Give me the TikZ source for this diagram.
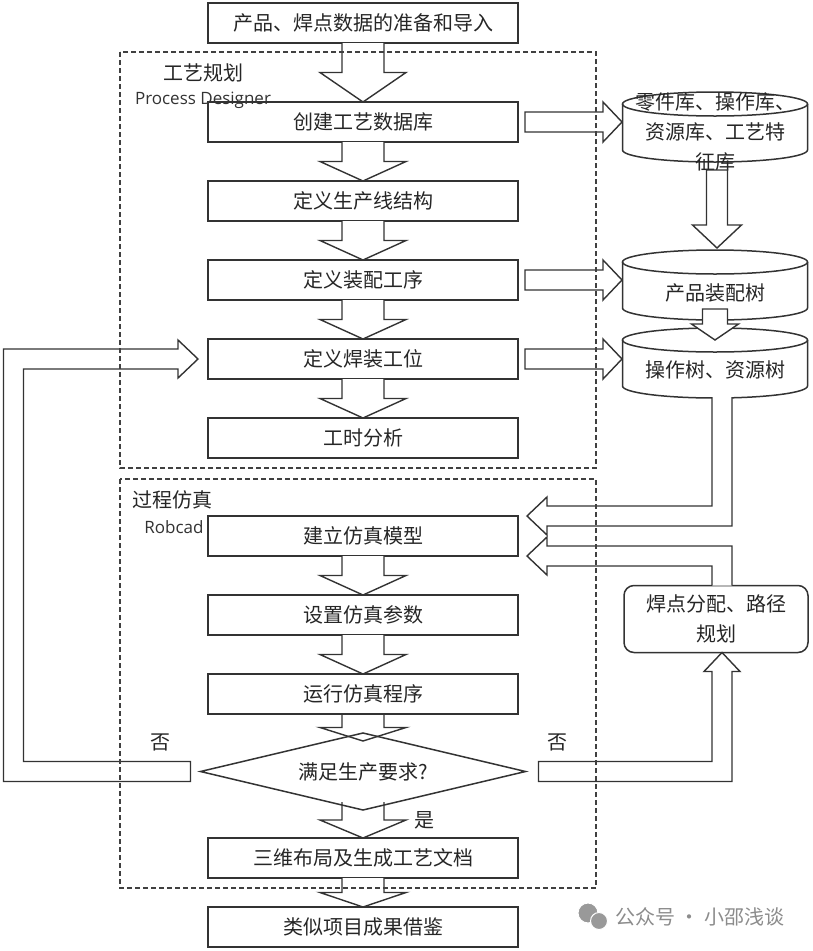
\documentclass[tikz,border=0pt]{standalone}
\usepackage{fontspec}
\setmainfont{Noto Sans CJK SC}
\newfontfamily\latinfont{Open Sans}
\usepackage{tikz}
\usetikzlibrary{arrows.meta,positioning,shapes.geometric,calc}

% hollow block arrows
\newcommand{\blkdown}[3][]{%
  \draw[blk,#1] let \p1=(#2), \p2=(#3), \p3=($(#2)!.5!(#3)$) in
    (\x1-21pt,\y1) -- (\x1-21pt,\y3) -- (\x1-43pt,\y3) -- (\x1,\y2)
    -- (\x1+43pt,\y3) -- (\x1+21pt,\y3) -- (\x1+21pt,\y1);}
\newcommand{\blkright}[2]{%
  \draw[blk] let \p1=(#1), \p2=(#2) in
    (\x1,\y1+10pt) -- (\x2-19pt,\y1+10pt) -- (\x2-19pt,\y1+20pt) -- (\x2,\y1)
    -- (\x2-19pt,\y1-20pt) -- (\x2-19pt,\y1-10pt) -- (\x1,\y1-10pt) -- cycle;}
\newcommand{\cylarrow}[5]{%
  \draw[blk] let \p1=(#1), \p2=(#2) in
    (\x1-#3,\y1) -- (\x1-#3,\y2+#5) -- (\x1-#4,\y2+#5) -- (\x1,\y2)
    -- (\x1+#4,\y2+#5) -- (\x1+#3,\y2+#5) -- (\x1+#3,\y1) -- cycle;}
% database outline round a named node
\newcommand{\drawcyl}[1]{%
  \draw[cylline] ($(#1.north)+(0,12)$) ellipse [x radius=92.5pt, y radius=12pt];
  \draw[cylline] ($(#1.north west)+(0,12)$) -- ($(#1.south west)+(0,-12)$)
    arc [start angle=180, end angle=360, x radius=92.5pt, y radius=12pt]
    -- ($(#1.north east)+(0,12)$);}

\begin{document}
\begin{tikzpicture}[x=1pt, y=-1pt,
  node distance=39pt,
  txt/.style={font=\fontsize{20}{30}\selectfont, text=black!85},
  box/.style={rectangle, draw=black!80, line width=1.5pt, minimum width=310pt, minimum height=40pt, inner sep=0pt, outer sep=0pt, txt},
  decide/.style={diamond, draw=black!80, line width=1.5pt, minimum width=325pt, minimum height=77pt, aspect=4.2, inner sep=0pt, outer sep=0pt, txt},
  cylnode/.style={rectangle, minimum width=185pt, minimum height=70pt, inner sep=0pt, outer sep=0pt},
  cylline/.style={draw=black!80, line width=1.5pt},
  plan/.style={rectangle, rounded corners=10pt, draw=black!80, line width=1.5pt, minimum width=184pt, minimum height=67pt, align=center, outer sep=0pt, txt},
  blk/.style={draw=black!80, line width=1.4pt, fill=white, line join=miter},
  frame/.style={draw=black!75, line width=1.3pt, dash pattern=on 5pt off 3pt},
  tag/.style={font=\latinfont\fontsize{17}{20}\selectfont, text=black!80}
]
\fill[white] (0,0) rectangle (812,951);
\useasboundingbox (0,0) rectangle (812,951);

% main flow
\node[box] (prep) at (363,23) {产品、焊点数据的准备和导入};
\node[box, below=59pt of prep] (db) {创建工艺数据库};
\node[box, below=of db] (line) {定义生产线结构};
\node[box, below=of line] (asm) {定义装配工序};
\node[box, below=of asm] (stat) {定义焊装工位};
\node[box, below=of stat] (time) {工时分析};
\node[box, below=58pt of time] (model) {建立仿真模型};
\node[box, below=of model] (param) {设置仿真参数};
\node[box, below=of param] (run) {运行仿真程序};
\node[decide, below=19pt of run] (check) {满足生产要求?};
\node[box, below=28pt of check] (layout) {三维布局及生成工艺文档};
\node[box, below=29pt of layout] (reuse) {类似项目成果借鉴};

% databases on the right
\node[cylnode] (lib) at (715,127) {};
\drawcyl{lib}
\node[txt, align=center] (libtxt) at (715,132) {零件库、操作库、\\资源库、工艺特\\征库};
\node[cylnode] (tree) at (715,285) {};
\drawcyl{tree}
\node[txt] (treetxt) at (715,293) {产品装配树};
\node[cylnode] (optree) at (715,363) {};
\drawcyl{optree}
\node[txt] (optreetxt) at (715,370) {操作树、资源树};
\node[plan] (plan) at (716,619) {焊点分配、路径\\规划};

% arrows
\blkdown{prep.south}{db.north}
\blkdown{db.south}{line.north}
\blkdown{line.south}{asm.north}
\blkdown{asm.south}{stat.north}
\blkdown{stat.south}{time.north}
\blkdown{model.south}{param.north}
\blkdown{param.south}{run.north}
\coordinate (chkin) at ($(check.north)+(0,8)$);
\coordinate (chkout) at ($(check.south)+(0,-8)$);
\blkdown[fill=none]{run.south}{chkin}
\blkdown[fill=none]{chkout}{layout.north}
\blkdown{layout.south}{reuse.north}

\blkright{$(db.east)+(7,0)$}{$(lib.center)+(-93,0)$}
\blkright{$(asm.east)+(7,0)$}{$(tree.center)+(-93,0)$}
\blkright{$(stat.east)+(7,0)$}{$(optree.center)+(-93,0)$}
\cylarrow{$(lib.center)+(2,43)$}{$(tree.center)+(2,-37)$}{10.5pt}{24.5pt}{23pt}
\cylarrow{$(tree.center)+(0,24)$}{$(optree.center)+(0,-23)$}{12.5pt}{23.5pt}{16pt}

\draw[blk] let \p1=($(optree.center)+(7,34)$), \p2=($(model.north east)+(9,0)$) in
  (\x1-10pt,\y1) -- (\x1-10pt,\y2+10pt) -- (\x2+20pt,\y2+10pt) -- (\x2+20pt,\y2+19pt) -- (\x2,\y2)
  -- (\x2+20pt,\y2-19pt) -- (\x2+20pt,\y2-10pt) -- (\x1+10pt,\y2-10pt) -- (\x1+10pt,\y1);
\draw[blk] let \p1=($(plan.north)+(6,0)$), \p2=($(model.south east)+(9,0)$) in
  (\x1-10pt,\y1) -- (\x1-10pt,\y2-10pt) -- (\x2+20pt,\y2-10pt) -- (\x2+20pt,\y2-19pt) -- (\x2,\y2)
  -- (\x2+20pt,\y2+19pt) -- (\x2+20pt,\y2+10pt) -- (\x1+10pt,\y2+10pt) -- (\x1+10pt,\y1);
\draw[blk] let \p1=($(check.east)+(13,0)$), \p2=($(plan.south)+(6,0)$) in
  (\x1,\y1+10pt) -- (\x2-10pt,\y1+10pt) -- (\x2-10pt,\y2-19pt) -- (\x2-18pt,\y2-19pt) -- (\x2,\y2)
  -- (\x2+18pt,\y2-19pt) -- (\x2+10pt,\y2-19pt) -- (\x2+10pt,\y1-10pt) -- (\x1,\y1-10pt) -- cycle;
\coordinate (backL) at ($(check.west)+(-187,0)$);
\draw[blk] let \p1=($(check.west)+(-10,0)$), \p2=($(stat.west)+(-10,0)$), \p3=(backL) in
  (\x1,\y1+10pt) -- (\x3+10pt,\y1+10pt) -- (\x3+10pt,\y2-10pt) -- (\x2-20pt,\y2-10pt) -- (\x2-20pt,\y2-19pt) -- (\x2,\y2)
  -- (\x2-20pt,\y2+19pt) -- (\x2-20pt,\y2+10pt) -- (\x3-10pt,\y2+10pt) -- (\x3-10pt,\y1-10pt) -- (\x1,\y1-10pt) -- cycle;

% labels
\node[txt] (nol) at (160,742) {否};
\node[txt] (nor) at (557,742) {否};
\node[txt] (yes) at (424,820) {是};
\node[txt] (plantitle) at (203,73) {工艺规划};
\node[tag] (pdtag) at (203,100) {Process Designer};
\node[txt] (simtitle) at (172,500) {过程仿真};
\node[tag] (rctag) at (174,527) {Robcad};

% watermark
\draw[fill=black!40, draw=white, line width=1pt] (588,913) circle (10);
\draw[fill=black!40, draw=white, line width=1pt] (599,921) circle (8.5);
\node[font=\fontsize{20}{24}\selectfont, text=black!45] (mark) at (700,917) {公众号 · 小邵浅谈};

% dashed groups
\draw[frame] (120,52) rectangle (596,468);
\draw[frame] (120,479) rectangle (596,888);
\end{tikzpicture}
\end{document}
